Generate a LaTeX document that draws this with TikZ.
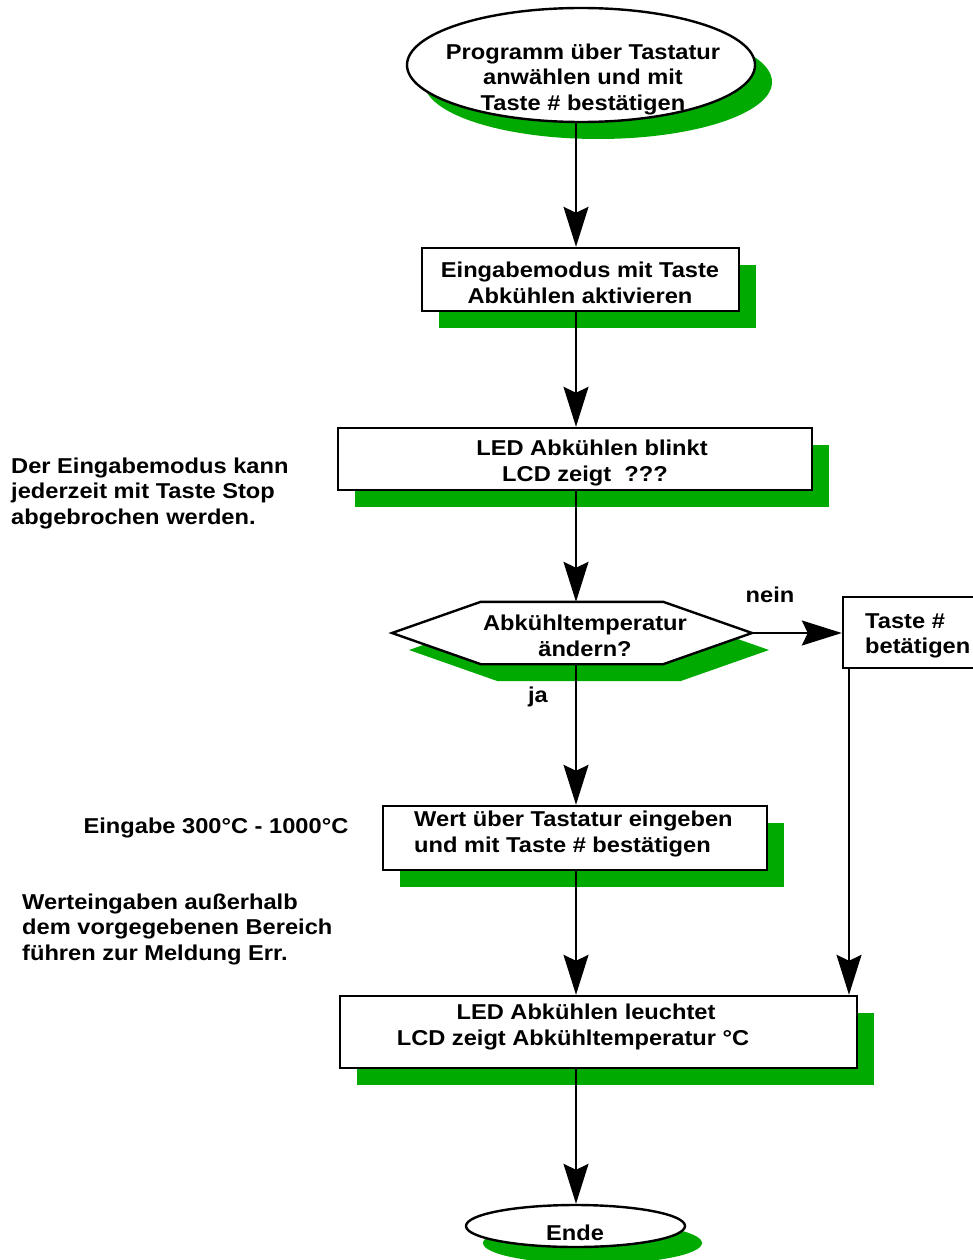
\documentclass[tikz,border=0pt]{standalone}
\usepackage{fontspec}
\setmainfont{Liberation Sans}[FakeStretch=1.1]
\usetikzlibrary{shapes.geometric,shadows,arrows.meta,calc}
\definecolor{flowgreen}{RGB}{0,170,0}
\begin{document}
\begin{tikzpicture}[x=1pt,y=-1pt,
  every node/.style={font=\fontsize{21.5}{25.5}\selectfont\bfseries, inner sep=0pt},
  shadowed/.style={general shadow={fill=flowgreen, shadow xshift=17pt, shadow yshift=-17pt}},
  plainbox/.style={draw, line width=2.4pt, fill=white, rectangle},
  stepbox/.style={plainbox, shadowed},
  terminal/.style={draw, line width=2.4pt, fill=white, ellipse, shadowed},
  txt/.style={align=center},
  note/.style={align=left, anchor=west},
  conn/.style={line width=2pt, -{Stealth[length=40pt,width=25pt,inset=6pt]}}]
\useasboundingbox (0,0) rectangle (972,1260);

% guide lines for the connectors
\coordinate (spine) at (576,0);
\coordinate (side) at (849,0);

% start
\node[terminal, minimum width=348pt, minimum height=114pt] (start) at (581,65) {};
\node[txt] (startT) at (583,79) {Programm über Tastatur\\anwählen und mit\\Taste \# bestätigen};

% input mode
\node[stepbox, minimum width=317pt, minimum height=63pt] (enter) at (580.5,279.5) {};
\node[txt] (enterT) at (580,283) {Eingabemodus mit Taste\\Abkühlen aktivieren};

% blinking LED
\node[stepbox, minimum width=474pt, minimum height=62pt] (blink) at (575,459) {};
\node[txt] (blinkT) at (585,463) {\hspace*{14pt}LED Abkühlen blinkt\\LCD zeigt\ \ ???};

% decision
\coordinate (qw) at (392,633);
\coordinate (qe) at (752,633);
\node[minimum width=182pt, minimum height=62pt] (ask) at (572,633) {};
\path[shadowed, draw, line width=2.4pt, fill=white]
  (qw) -- (ask.north west) -- (ask.north east) -- (qe)
  -- (ask.south east) -- (ask.south west) -- cycle;
\node[txt] (askT) at (585,636) {Abkühltemperatur\\ändern?};

% confirm without change
\node[plainbox, minimum width=160pt, minimum height=71pt] (press) at (923,632.5) {};
\node[note] (pressT) at (865,636) {Taste \#\\betätigen};

% value entry
\node[stepbox, minimum width=384pt, minimum height=64pt] (value) at (575,838) {};
\node[note] (valueT) at (414,834) {Wert über Tastatur eingeben\\und mit Taste \# bestätigen};

% result
\node[stepbox, minimum width=517pt, minimum height=72pt] (lit) at (598.5,1032) {};
\node[txt] (litT) at (573,1027) {\hspace*{26pt}LED Abkühlen leuchtet\\LCD zeigt Abkühltemperatur °C};

% end
\node[terminal, minimum width=219pt, minimum height=42pt] (end) at (575.5,1226) {};
\node[txt] (endT) at (575,1233) {Ende};

% branch labels
\node[txt] (no) at (770,595) {nein};
\node[txt] (yes) at (538,697) {ja};

% side notes
\node[note] (stopNote) at (11,493) {Der Eingabemodus kann\\jederzeit mit Taste Stop\\abgebrochen werden.};
\node[txt] (rangeNote) at (216,828) {Eingabe 300°C - 1000°C};
\node[note] (errNote) at (22,929) {Werteingaben außerhalb\\dem vorgegebenen Bereich\\führen zur Meldung Err.};

% connectors
\draw[conn] (start.south -| spine) -- (enter.north -| spine);
\draw[conn] (enter.south -| spine) -- (blink.north -| spine);
\draw[conn] (blink.south -| spine) -- (ask.north -| spine);
\draw[conn] (ask.south -| spine) -- (value.north -| spine);
\draw[conn] (value.south -| spine) -- (lit.north -| spine);
\draw[conn] (lit.south -| spine) -- (end.north -| spine);
\draw[conn] (qe) -- (press.west |- qe);
\draw[conn] (press.south -| side) -- (lit.north -| side);
\end{tikzpicture}
\end{document}
